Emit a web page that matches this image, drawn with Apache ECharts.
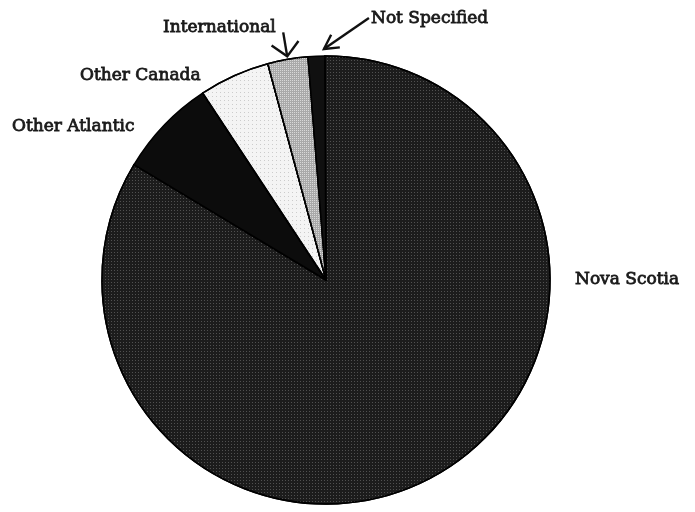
<!DOCTYPE html>
<html>
<head>
<meta charset="utf-8">
<script src="https://cdn.jsdelivr.net/npm/echarts@6/dist/echarts.min.js"></script>
<style>
html,body{margin:0;padding:0;background:#fff;}
#c{width:695px;height:512px;}
</style>
</head>
<body>
<div id="c"></div>
<script>
// Data (percent shares)
const categories = ['Nova Scotia', 'Other Atlantic', 'Other Canada', 'International', 'Not Specified'];
const values = [83.7, 7.1, 5.1, 2.9, 1.2];

// Styles
const fills = ['#1c1c1c', '#0c0c0c', '#f4f4f4', '#a9a9a9', '#101010'];
const decals = [
  {symbol: 'rect', symbolSize: 1, dashArrayX: [1, 2], dashArrayY: [1, 2], color: '#505050'},
  null,
  {symbol: 'rect', symbolSize: 1, dashArrayX: [1, 3], dashArrayY: [1, 3], color: '#cccccc'},
  {symbol: 'rect', symbolSize: 1, dashArrayX: [1, 1], dashArrayY: [1, 1], color: '#d8d8d8'},
  null
];
const labelPos = [[575, 280], [12, 127], [80, 76], [163, 28], [371, 19]];
const CENTER = [326, 280];
const RADIUS = 224;
const START = 90.3;

const chart = echarts.init(document.getElementById('c'), null, {renderer: 'canvas'});

const FONT = '"DejaVu Serif", "Liberation Serif", serif';

const option = {
  backgroundColor: '#ffffff',
  animation: false,
  series: [{
    type: 'pie',
    center: CENTER,
    radius: RADIUS,
    startAngle: START,
    clockwise: true,
    avoidLabelOverlap: false,
    data: categories.map((name, i) => ({
      name: name,
      value: values[i],
      itemStyle: Object.assign({color: fills[i]}, decals[i] ? {decal: decals[i]} : {})
    })),
    itemStyle: {borderColor: '#000', borderWidth: 1.5},
    label: {
      show: true,
      position: 'outside',
      formatter: '{b}',
      fontFamily: FONT,
      fontSize: 17,
      color: '#1a1a1a',
      textBorderColor: '#1a1a1a',
      textBorderWidth: 0.8
    },
    labelLine: {show: false},
    labelLayout: function (p) {
      const pos = labelPos[p.dataIndex];
      return {x: pos[0], y: pos[1], align: 'left', verticalAlign: 'middle'};
    },
    emphasis: {disabled: true}
  }]
};
chart.setOption(option);

// Arrows for the two small slices, tip positions derived from the data angles
const total = values.reduce((a, b) => a + b, 0);
function sliceAngles(idx) {
  let acc = 0;
  for (let i = 0; i < idx; i++) acc += values[i];
  const a0 = -START + acc / total * 360;          // degrees clockwise from +x (screen)
  const a1 = a0 + values[idx] / total * 360;
  return [a0, a1];
}
function pointAt(angDeg, r) {
  const a = angDeg * Math.PI / 180;
  return [CENTER[0] + r * Math.cos(a), CENTER[1] + r * Math.sin(a)];
}
function arrow(tip, tail, barbLen, spread) {
  const dx = tail[0] - tip[0], dy = tail[1] - tip[1];
  const base = Math.atan2(dy, dx);
  const b1 = [tip[0] + barbLen * Math.cos(base + spread), tip[1] + barbLen * Math.sin(base + spread)];
  const b2 = [tip[0] + barbLen * Math.cos(base - spread), tip[1] + barbLen * Math.sin(base - spread)];
  return [
    {type: 'polyline', shape: {points: [tail, tip]}, style: {stroke: '#111', lineWidth: 2.4, fill: null}, z: 100},
    {type: 'polyline', shape: {points: [b1, tip, b2]}, style: {stroke: '#111', lineWidth: 2.4, fill: null}, z: 100}
  ];
}
const intA = sliceAngles(3);
const intTip = pointAt((intA[0] + intA[1]) / 2, RADIUS + 3);
const nsA = sliceAngles(4);
const nsTip = pointAt(nsA[0] + (nsA[1] - nsA[0]) * 0.95, RADIUS + 7);

chart.setOption({
  graphic: [].concat(
    arrow(intTip, [intTip[0] - 4, intTip[1] - 24], 19, 0.8),
    arrow(nsTip, [nsTip[0] + 45, nsTip[1] - 31], 16, 0.5)
  )
});
</script>
</body>
</html>
